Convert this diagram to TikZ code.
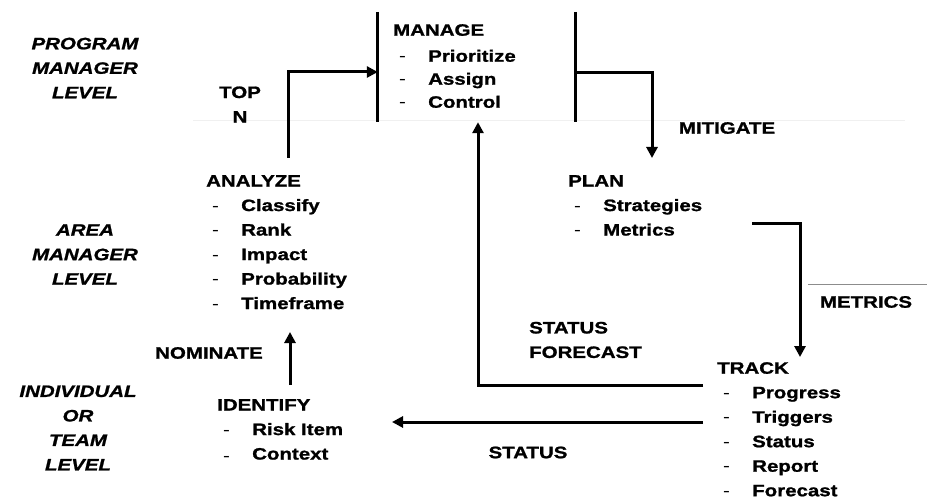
\documentclass[tikz,border=0pt]{standalone}
\usepackage{fontspec}
\setmainfont{Liberation Sans}[FakeStretch=1.24, BoldFeatures={FakeBold=1.2}, BoldItalicFeatures={FakeBold=1.2}]
\usetikzlibrary{arrows.meta}

% one bulleted line of a step list: light dash, then the bold item
\newcommand\riskitem[2][0pt]{\makebox[35pt][l]{\hspace{6pt}\mdseries\raisebox{#1}{-}}#2}

\begin{document}
\begin{tikzpicture}[x=1pt,y=-1pt,
  txt/.style={font=\bfseries\fontsize{16.5}{24.5}\selectfont, inner sep=0pt},
  block/.style={txt, align=left, anchor=north west},
  lbl/.style={txt, align=center},
  lvl/.style={txt, font=\bfseries\itshape\fontsize{16.5}{24.5}\selectfont, align=center},
  wire/.style={line width=3pt},
  flow/.style={wire, -{Triangle[width=11pt,length=11pt]}},
  faint/.style={line width=1pt, black!6}]

\useasboundingbox (0,0) rectangle (927,500);
\fill[white] (0,0) rectangle (927,500);

% level separators
\draw[faint] (193,121) -- (905,121);
\draw[line width=1pt, black!45] (808,284) -- (927,284);

% management levels
\node[lvl] (lvp) at (85,68) {PROGRAM\\MANAGER\\LEVEL};
\node[lvl] (lva) at (85,254.5) {AREA\\MANAGER\\LEVEL};
\node[lvl] (lvi) at (78,428) {INDIVIDUAL\\OR\\TEAM\\LEVEL};

% MANAGE step: box open at top and bottom
\node[minimum width=197pt, minimum height=110pt, inner sep=0pt] (mg) at (476.5,67) {};
\draw[wire] (mg.north west) -- (mg.south west) (mg.north east) -- (mg.south east);
\node[block, font=\bfseries\fontsize{16.5}{23}\selectfont] (mgt) at (393,24)
  {MANAGE\\[3pt]\riskitem{Prioritize}\\\riskitem{Assign}\\\riskitem{Control}};

% the other steps
\node[block] (an) at (206,175)
  {ANALYZE\\\riskitem{Classify}\\\riskitem{Rank}\\\riskitem{Impact}\\\riskitem{Probability}\\\riskitem{Timeframe}};
\node[block] (pl) at (568,175)
  {PLAN\\\riskitem{Strategies}\\\riskitem{Metrics}};
\node[block] (tr) at (717,362)
  {TRACK\\\riskitem{Progress}\\\riskitem{Triggers}\\\riskitem{Status}\\\riskitem{Report}\\\riskitem{Forecast}};
\node[block] (id) at (217,399)
  {IDENTIFY\\\riskitem{Risk Item}\\\riskitem[-2pt]{Context}};

% connector labels
\node[lbl] (topn) at (240,104.5) {TOP\\N};
\node[lbl] (mit) at (727,128) {MITIGATE};
\node[lbl] (met) at (866,302) {METRICS};
\node[txt, align=left, anchor=west] (sf) at (529,340) {STATUS\\FORECAST};
\node[lbl] (st) at (528,452.5) {STATUS};
\node[lbl] (nom) at (209,353) {NOMINATE};

% connector end points
\coordinate (aOut) at (288,158);
\coordinate (pIn) at (652,158);
\coordinate (pOut) at (752,223);
\coordinate (tIn) at (800,357);
\coordinate (tOut1) at (703,385);
\coordinate (tOut2) at (703,422);
\coordinate (iIn) at (392,422);
\coordinate (iOut) at (290,385);
\coordinate (aIn) at (290,332);

% flows
\draw[flow] (aOut) |- ([yshift=-5pt]mg.west);
\draw[flow] ([yshift=-6pt]mg.east) -| (pIn);
\draw[flow] (pOut) -| (tIn);
\draw[flow] (tOut1) -| ([xshift=1.5pt]mg.south);
\draw[flow] (tOut2) -- (iIn);
\draw[flow] (iOut) -- (aIn);
\end{tikzpicture}
\end{document}
